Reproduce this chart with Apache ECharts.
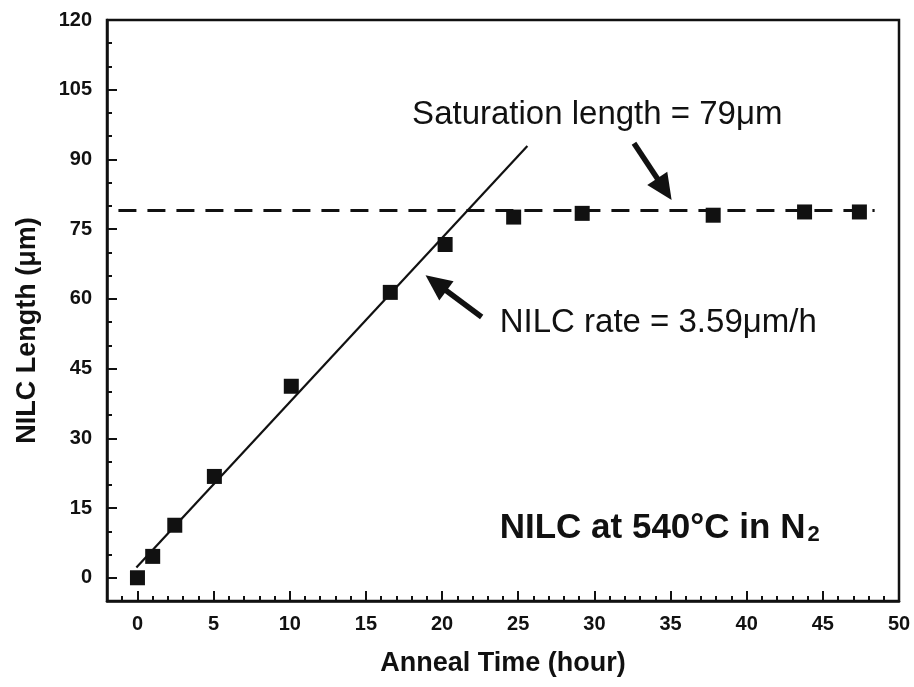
<!DOCTYPE html>
<html>
<head>
<meta charset="utf-8">
<script src="https://cdn.jsdelivr.net/npm/echarts@6/dist/echarts.min.js"></script>
<style>html,body{margin:0;padding:0;background:#fff}#c{width:914px;height:687px}</style>
</head>
<body>
<div id="c"></div>
<script>
// ---- data ----
const annealTime = [0, 1, 2.45, 5.05, 10.1, 16.6, 20.2, 24.7, 29.2, 37.8, 43.8, 47.4];
const nilcLength = [0, 4.6, 11.3, 21.8, 41.2, 61.4, 71.7, 77.6, 78.4, 78.0, 78.7, 78.7];
const fitLineX = [-0.07, 25.6];
const fitLineY = [2.2, 92.9];
const saturationX = [-1.25, 48.4];
const saturationY = [79, 79];
const xMajorTicks = [0, 5, 10, 15, 20, 25, 30, 35, 40, 45, 50];
const xMinorTicks = [-1, 1, 2, 3, 4, 6, 7, 8, 9, 11, 12, 13, 14, 16, 17, 18, 19, 21, 22, 23, 24, 26, 27, 28, 29, 31, 32, 33, 34, 36, 37, 38, 39, 41, 42, 43, 44, 46, 47, 48, 49];
const yMajorTicks = [0, 15, 30, 45, 60, 75, 90, 105, 120];
const yMinorTicks = [5, 10, 20, 25, 35, 40, 50, 55, 65, 70, 80, 85, 95, 100, 110, 115];
const satArrow = [[32.6, 93.5], [34.6, 83.6]];
const rateArrow = [[22.6, 56.1], [19.6, 63.4]];
const satText = 'Saturation length = 79μm';
const rateText = 'NILC rate = 3.59μm/h';
const condText = 'NILC at 540°C in N';

const FONT = "'Liberation Sans', Arial, Helvetica, sans-serif";
const INK = '#111';

const chart = echarts.init(document.getElementById('c'), null, {renderer: 'canvas'});
const axisCommonX = {type: 'value', min: -2, max: 50};
const axisCommonY = {type: 'value', min: -5, max: 120};

chart.setOption({
  backgroundColor: '#fff',
  animation: false,
  grid: {left: 107, right: 15, top: 20, bottom: 86, show: true, borderColor: INK, borderWidth: 2.5, backgroundColor: 'transparent'},
  xAxis: [
    Object.assign({}, axisCommonX, {
      position: 'bottom',
      name: 'Anneal Time (hour)', nameLocation: 'middle', nameGap: 49,
      nameTextStyle: {fontFamily: FONT, fontWeight: 'bold', fontSize: 27, color: INK},
      axisLine: {show: true, onZero: false, lineStyle: {color: INK, width: 2.5}},
      axisTick: {show: true, inside: true, length: 10, customValues: xMajorTicks, lineStyle: {color: INK, width: 2}},
      axisLabel: {show: true, customValues: xMajorTicks, margin: 13, fontFamily: FONT, fontWeight: 'bold', fontSize: 20, color: INK},
      splitLine: {show: false}
    }),
    Object.assign({}, axisCommonX, {
      position: 'bottom',
      axisLine: {show: false, onZero: false},
      axisTick: {show: true, inside: true, length: 5, customValues: xMinorTicks, lineStyle: {color: INK, width: 2}},
      axisLabel: {show: false},
      splitLine: {show: false}
    })
  ],
  yAxis: [
    Object.assign({}, axisCommonY, {
      position: 'left',
      name: 'NILC Length (μm)', nameLocation: 'middle', nameGap: 66,
      nameTextStyle: {fontFamily: FONT, fontWeight: 'bold', fontSize: 27, color: INK, padding: [0, 40, 0, 0]},
      axisLine: {show: true, onZero: false, lineStyle: {color: INK, width: 2.5}},
      axisTick: {show: true, inside: true, length: 10, customValues: yMajorTicks, lineStyle: {color: INK, width: 2}},
      axisLabel: {show: true, customValues: yMajorTicks, margin: 15, fontFamily: FONT, fontWeight: 'bold', fontSize: 20, color: INK},
      splitLine: {show: false}
    }),
    Object.assign({}, axisCommonY, {
      position: 'left',
      axisLine: {show: false, onZero: false},
      axisTick: {show: true, inside: true, length: 5, customValues: yMinorTicks, lineStyle: {color: INK, width: 2}},
      axisLabel: {show: false},
      splitLine: {show: false}
    })
  ],
  series: [
    {
      type: 'line', name: 'saturation',
      data: saturationX.map((x, i) => [x, saturationY[i]]),
      showSymbol: false, symbol: 'none',
      lineStyle: {color: INK, width: 3, type: [18, 11]},
      z: 2
    },
    {
      type: 'line', name: 'fit',
      data: fitLineX.map((x, i) => [x, fitLineY[i]]),
      showSymbol: false, symbol: 'none',
      lineStyle: {color: INK, width: 2.2},
      z: 3,
      markLine: {
        silent: true, animation: false,
        symbol: ['none', 'triangle'], symbolSize: [24, 26],
        lineStyle: {color: INK, width: 5.5, type: 'solid'},
        itemStyle: {color: INK},
        label: {show: false},
        data: [
          [{coord: satArrow[0]}, {coord: satArrow[1]}],
          [{coord: rateArrow[0]}, {coord: rateArrow[1]}]
        ]
      },
      markPoint: {
        silent: true, animation: false,
        symbol: 'rect', symbolSize: 1,
        itemStyle: {color: 'rgba(0,0,0,0)'},
        data: [
          {coord: [18.0, 99.5], label: {show: true, position: 'right', distance: 0, formatter: satText, fontFamily: FONT, fontSize: 33, color: INK}},
          {coord: [23.75, 54.8], label: {show: true, position: 'right', distance: 0, formatter: rateText, fontFamily: FONT, fontSize: 33, color: INK}},
          {coord: [23.75, 10.6], label: {show: true, position: 'right', distance: 0,
            formatter: '{a|' + condText + '}{b|2}',
            rich: {
              a: {fontFamily: FONT, fontSize: 35, fontWeight: 'bold', color: INK, verticalAlign: 'bottom'},
              b: {fontFamily: FONT, fontSize: 22, fontWeight: 'bold', color: INK, verticalAlign: 'bottom', padding: [0, 0, 0, 2]}
            }}}
        ]
      }
    },
    {
      type: 'scatter', name: 'NILC',
      data: annealTime.map((x, i) => [x, nilcLength[i]]),
      symbol: 'rect', symbolSize: 15,
      itemStyle: {color: INK, opacity: 1},
      z: 4
    }
  ]
});
</script>
</body>
</html>
